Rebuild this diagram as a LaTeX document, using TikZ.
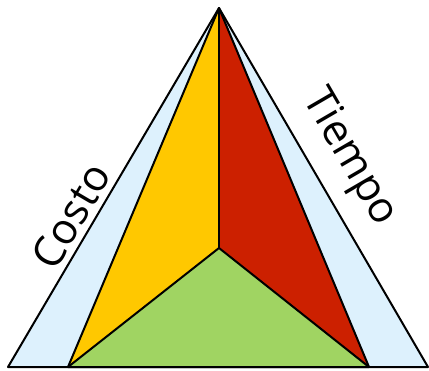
\documentclass[tikz,border=0pt]{standalone}
\usepackage{fontspec}
\setmainfont{Open Sans}
\definecolor{skyblue}{RGB}{221,241,253}
\definecolor{goldyellow}{RGB}{255,200,0}
\definecolor{brickred}{RGB}{204,32,0}
\definecolor{leafgreen}{RGB}{160,212,98}

\begin{document}
\begin{tikzpicture}[x=0.75pt,y=-0.75pt,line join=round]
        \useasboundingbox (0,0) rectangle (429,371);
        \coordinate (apex) at (219,8);
        \coordinate (outerL) at (8,367);
        \coordinate (outerR) at (428,367);
        \coordinate (innerL) at (68,367);
        \coordinate (innerR) at (369,367);
        \coordinate (mid) at (219,248);

        % Outer triangle
        \fill[skyblue] (apex) -- (outerL) -- (outerR) -- cycle;

        % Three inner faces
        \fill[goldyellow] (apex) -- (innerL) -- (mid) -- cycle;
        \fill[brickred] (apex) -- (mid) -- (innerR) -- cycle;
        \fill[leafgreen] (mid) -- (innerL) -- (innerR) -- cycle;

        \draw[line width=1.5pt] (apex) -- (outerL) -- (outerR) -- cycle;
        \draw[line width=1.5pt] (apex) -- (innerL) -- (innerR) -- cycle;
        \draw[line width=1.5pt] (innerL) -- (mid) -- (innerR);
        \draw[line width=1.5pt] (apex) -- (mid);

        % Labels along the sides
        \node[rotate=59.6, font=\fontsize{32}{36}\selectfont] (costo) at (71,216) {Costo};
        \node[rotate=-59.8, font=\fontsize{32}{36}\selectfont] (tiempo) at (349,158) {Tiempo};
      \end{tikzpicture}
\end{document}
